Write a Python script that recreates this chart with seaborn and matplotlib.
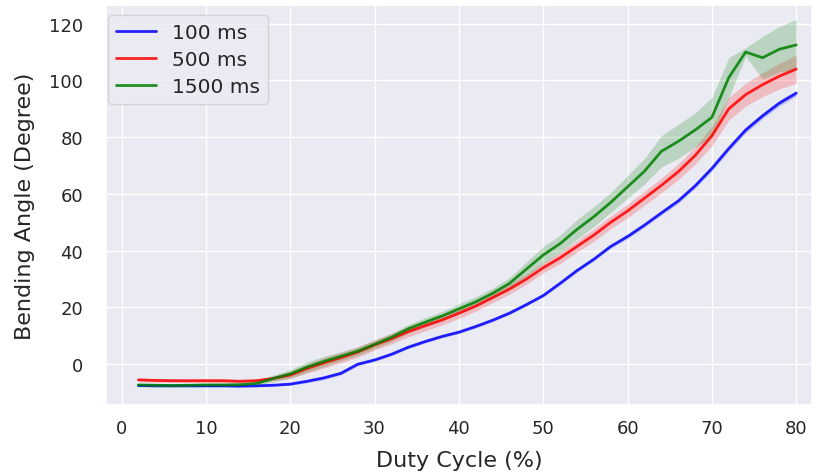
import matplotlib
matplotlib.use('Agg')
import matplotlib.pyplot as plt
import numpy as np
import pandas as pd
import seaborn as sns

# duty cycle (%)
duty = list(range(2, 82, 2))

# mean bending angle (degree) for each pulse width
mean_100 = [-7.5, -7.6, -7.6, -7.6, -7.6, -7.6, -7.7, -7.6, -7.4, -7.0,
            -6.0, -4.8, -3.2, 0.0, 1.5, 3.5, 6.0, 8.0, 9.8, 11.3,
            13.3, 15.5, 18.0, 21.0, 24.2, 28.5, 33.0, 37.0, 41.5, 45.0,
            49.0, 53.3, 57.5, 62.8, 69.0, 76.0, 82.5, 87.5, 92.0, 95.5]
mean_500 = [-5.5, -5.7, -5.8, -5.8, -5.8, -5.8, -6.0, -5.8, -5.0, -3.8,
            -1.5, 0.5, 2.3, 4.3, 6.8, 9.0, 11.5, 13.6, 15.6, 18.0,
            20.5, 23.5, 26.5, 30.0, 34.0, 37.5, 41.5, 45.5, 50.0, 54.0,
            58.5, 63.0, 67.8, 73.5, 80.5, 90.0, 95.0, 98.5, 101.5, 104.0]
mean_1500 = [-7.3, -7.4, -7.5, -7.4, -7.3, -7.3, -7.2, -6.8, -5.0, -3.4,
             -1.0, 1.0, 2.8, 4.6, 7.0, 9.5, 12.5, 14.8, 17.0, 19.5,
             22.0, 25.0, 28.5, 33.5, 38.5, 42.5, 47.5, 52.0, 57.0, 62.5,
             68.0, 75.0, 78.5, 82.5, 87.0, 101.0, 110.0, 108.0, 111.0, 112.5]

# spread (standard deviation) of each series
sd_100 = [0.3, 0.3, 0.3, 0.3, 0.3, 0.3, 0.3, 0.3, 0.3, 0.4,
          0.5, 0.6, 0.6, 0.6, 0.5, 0.5, 0.5, 0.5, 0.5, 0.5,
          0.5, 0.5, 0.5, 0.5, 0.5, 0.6, 0.6, 0.6, 0.6, 0.7,
          0.7, 0.7, 0.8, 0.8, 0.9, 0.9, 1.0, 1.0, 1.0, 1.0]
sd_500 = [0.6, 0.6, 0.6, 0.6, 0.6, 0.6, 0.6, 0.6, 0.8, 1.2,
          1.6, 1.8, 1.8, 1.8, 1.8, 1.8, 1.8, 1.8, 1.8, 1.8,
          1.8, 1.8, 1.8, 1.8, 1.8, 2.0, 2.0, 2.2, 2.2, 2.4,
          2.5, 2.6, 2.8, 3.0, 3.5, 4.0, 4.0, 4.2, 4.5, 5.0]
sd_1500 = [0.6, 0.6, 0.6, 0.6, 0.6, 0.6, 0.6, 0.8, 1.2, 1.5,
           1.8, 1.8, 1.6, 1.5, 1.5, 1.5, 1.5, 1.6, 1.6, 1.8,
           1.8, 1.8, 2.0, 2.5, 3.0, 3.0, 3.5, 3.5, 3.5, 4.0,
           4.5, 5.5, 6.0, 6.0, 7.0, 7.0, 1.5, 7.5, 8.0, 9.0]

labels = ['100 ms', '500 ms', '1500 ms']
colors = ['blue', 'red', 'green']

sns.set_theme(style='darkgrid')
plt.rcParams['font.family'] = ['DejaVu Sans']

fig, ax = plt.subplots(figsize=(8.18, 4.77), dpi=100)

df = pd.DataFrame({
    'duty': duty * 3,
    'angle': mean_100 + mean_500 + mean_1500,
    'width': [labels[0]] * len(duty) + [labels[1]] * len(duty) + [labels[2]] * len(duty),
})
sns.lineplot(data=df, x='duty', y='angle', hue='width', palette=colors,
             linewidth=2, alpha=0.85, ax=ax)

for m, s, c in zip([mean_100, mean_500, mean_1500], [sd_100, sd_500, sd_1500], colors):
    m = np.array(m)
    s = np.array(s)
    ax.fill_between(duty, m - s, m + s, color=c, alpha=0.2, linewidth=0)

ax.set_xlim(-1.9, 81.9)
ax.set_ylim(-14.5, 126.5)
ax.set_xticks(range(0, 90, 10))
ax.set_yticks(range(0, 140, 20))
ax.tick_params(labelsize=13)
ax.tick_params(axis='y', pad=10)
ax.set_xlabel('Duty Cycle (%)', fontsize=16, labelpad=10)
ax.set_ylabel('Bending Angle (Degree)', fontsize=16, labelpad=10)
ax.legend(title=None, loc='upper left', fontsize=14.5, labelspacing=0.4,
          bbox_to_anchor=(0.003, 0.975), borderaxespad=0)

plt.subplots_adjust(left=0.129, right=0.993, top=0.987, bottom=0.148)
plt.savefig('out.png')
